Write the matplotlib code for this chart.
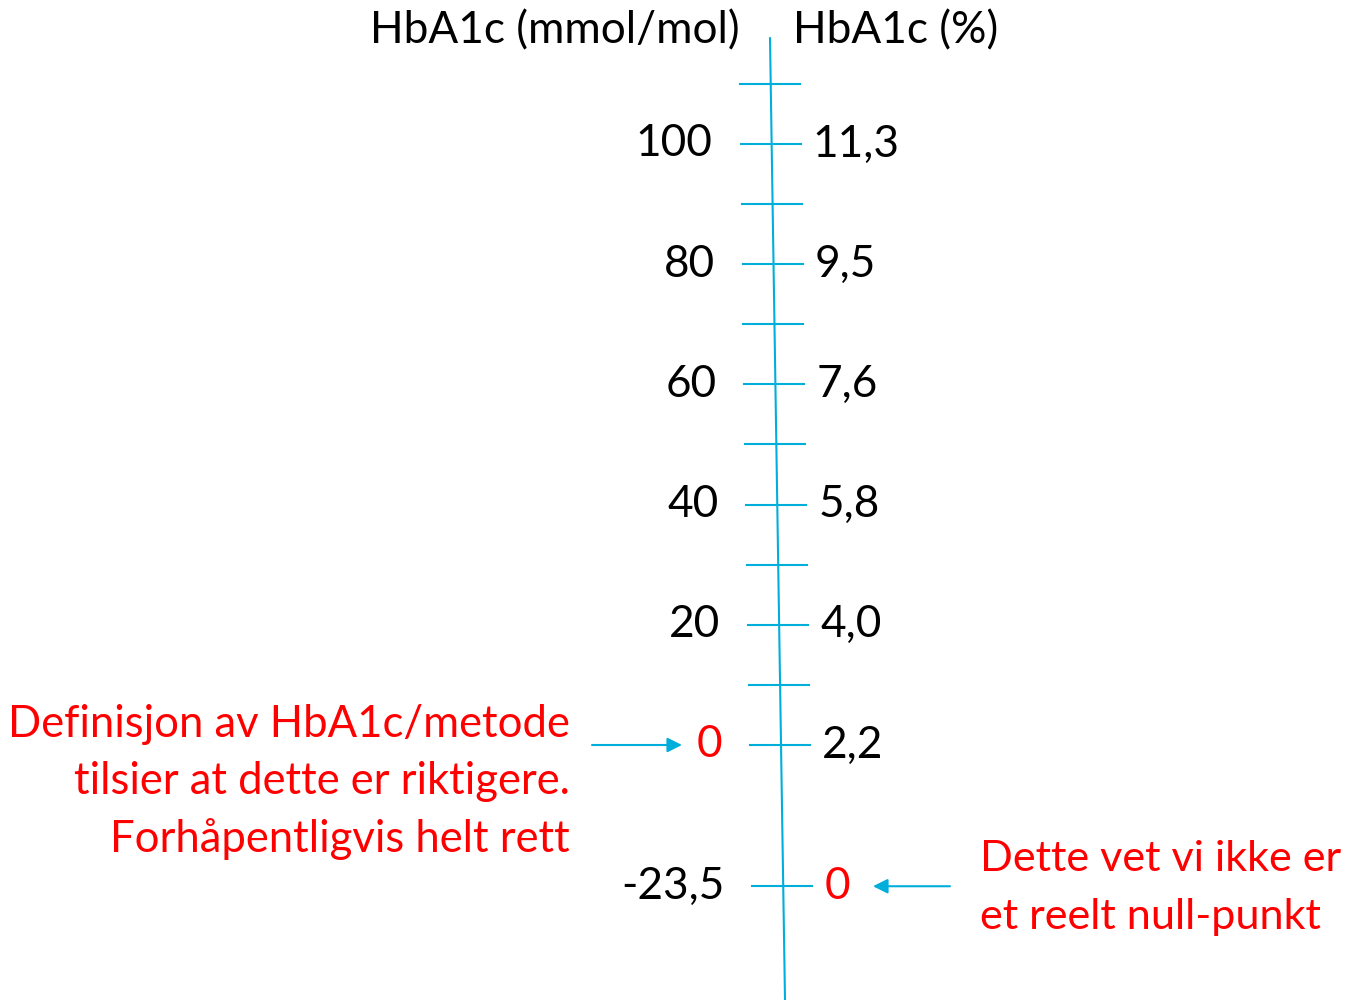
import numpy as np
import matplotlib.pyplot as plt

# values on the scale (mmol/mol) and the matching % labels
tick_vals = [110, 100, 90, 80, 70, 60, 50, 40, 30, 20, 10, 0, -23.5]
mmol_vals = [100, 80, 60, 40, 20, 0, -23.5]
mmol_labels = ['100', '80', '60', '40', '20', '0', '-23,5']
pct_labels = ['11,3', '9,5', '7,6', '5,8', '4,0', '2,2', '0']
mmol_colors = ['black'] * 5 + ['red', 'black']
pct_colors = ['black'] * 6 + ['red']

left_note = ['Definisjon av HbA1c/metode', 'tilsier at dette er riktigere.',
             'Forhåpentligvis helt rett']
right_note = ['Dette vet vi ikke er', 'et reelt null-punkt']

blue = '#00AEDB'
plt.rcParams['font.family'] = ['Lato', 'DejaVu Sans']
fs = 31.8

fig = plt.figure(figsize=(13.46, 10), dpi=100)
ax = fig.add_axes([0, 0, 1, 1])
ax.set_xlim(0, 1346)
ax.set_ylim(-42.43, 123.96)
ax.axis('off')


def line_x(v):
    # the axis line leans slightly to the right going down
    pix = 745 - 6.01 * v
    return 770 + 15 * (pix - 38) / 962


# slanted axis line
vtop, vbot = 117.6, -42.43
ax.plot([line_x(vtop), line_x(vbot)], [vtop, vbot], color=blue, lw=1.5)

# ticks
for v in tick_vals:
    c = line_x(v) - 1
    ax.plot([c - 30, c + 30], [v, v], color=blue, lw=1.5)

# labels on both sides
for v, lab, col in zip(mmol_vals, mmol_labels, mmol_colors):
    ax.text(line_x(v) - 59, v, lab, ha='right', va='center', fontsize=fs, color=col)
for v, lab, col in zip(mmol_vals, pct_labels, pct_colors):
    ax.text(line_x(v) + 41, v, lab, ha='left', va='center', fontsize=fs, color=col)

# headers
ax.text(740, 118.9, 'HbA1c (mmol/mol)', ha='right', va='center', fontsize=fs)
ax.text(793, 118.9, 'HbA1c (%)', ha='left', va='center', fontsize=fs)

# arrows
ax.annotate('', xy=(682, 0), xytext=(592, 0),
            arrowprops=dict(arrowstyle='-|>', color=blue, lw=1.5, mutation_scale=22,
                            shrinkA=0, shrinkB=0))
ax.annotate('', xy=(873, -23.5), xytext=(950, -23.5),
            arrowprops=dict(arrowstyle='-|>', color=blue, lw=1.5, mutation_scale=22,
                            shrinkA=0, shrinkB=0))

# red notes
for i, s in enumerate(left_note):
    ax.text(570, 3.4 - i * 9.55, s, ha='right', va='center', fontsize=31.4, color='red')
for i, s in enumerate(right_note):
    ax.text(980, -18.9 - i * 9.7, s, ha='left', va='center', fontsize=31.1, color='red')

fig.savefig('out.png', dpi=100)
